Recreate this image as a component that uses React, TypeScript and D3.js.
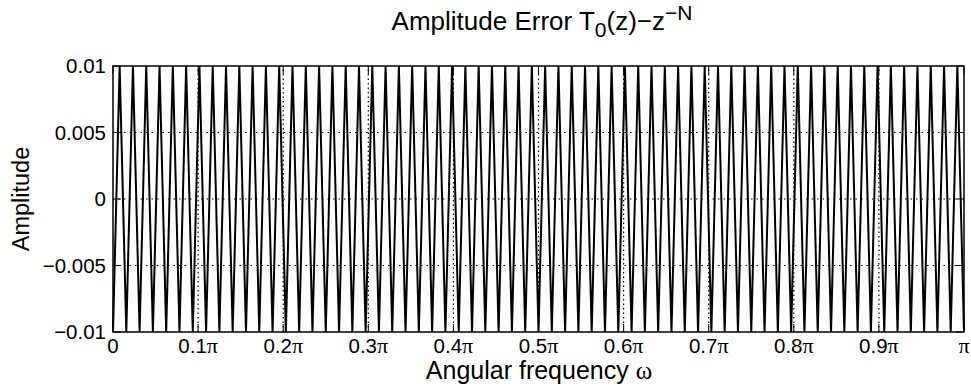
import React from "react";
import * as d3 from "d3";

// Ripple extrema of the amplitude error, sampled evenly from ω = 0 to ω = π
const errorValues: number[] = [
  -0.01, 0.01, -0.01, 0.01, -0.01, 0.01, -0.01, 0.01,
  -0.01, 0.01, -0.01, 0.01, -0.01, 0.01, -0.01, 0.01,
  -0.01, 0.01, -0.01, 0.01, -0.01, 0.01, -0.01, 0.01,
  -0.01, 0.01, -0.01, 0.01, -0.01, 0.01, -0.01, 0.01,
  -0.01, 0.01, -0.01, 0.01, -0.01, 0.01, -0.01, 0.01,
  -0.01, 0.01, -0.01, 0.01, -0.01, 0.01, -0.01, 0.01,
  -0.01, 0.01, -0.01, 0.01, -0.01, 0.01, -0.01, 0.01,
  -0.01, 0.01, -0.01, 0.01, -0.01, 0.01, -0.01, 0.01,
  -0.01, 0.01, -0.01, 0.01, -0.01, 0.01, -0.01, 0.01,
  -0.01, 0.01, -0.01, 0.01, -0.01, 0.01, -0.01, 0.01,
  -0.01, 0.01, -0.01, 0.01, -0.01, 0.01, -0.01, 0.01,
  -0.01, 0.01, -0.01, 0.01, -0.01, 0.01, -0.01, 0.01,
  -0.01, 0.01, -0.01, 0.01, -0.01, 0.01, -0.01, 0.01,
  -0.01, 0.01, -0.01, 0.01, -0.01, 0.01, -0.01, 0.01,
  -0.01, 0.01, -0.01, 0.01, -0.01, 0.01, -0.01, 0.01,
  -0.01, 0.01, -0.01, 0.01, -0.01, 0.01, -0.01, 0.01,
  -0.01,
];

const xTickValues: number[] = [0, 0.1, 0.2, 0.3, 0.4, 0.5, 0.6, 0.7, 0.8, 0.9, 1];
const xTickNumbers: string[] = ["0", "0.1", "0.2", "0.3", "0.4", "0.5", "0.6", "0.7", "0.8", "0.9", ""];
const yTickValues: number[] = [0.01, 0.005, 0, -0.005, -0.01];
const yTickLabels: string[] = ["0.01", "0.005", "0", "\u22120.005", "\u22120.01"];

const W = 971;
const H = 389;
const margin = { left: 113, right: 7, top: 66, bottom: 57 };
const SANS = "'Liberation Sans', Arial, Helvetica, sans-serif";
const SERIF = "'Liberation Serif', 'DejaVu Serif', serif";

export default function App() {
  const x = d3.scaleLinear().domain([0, 1]).range([margin.left, W - margin.right]);
  const y = d3.scaleLinear().domain([-0.01, 0.01]).range([H - margin.bottom, margin.top]);
  const n = errorValues.length;
  const line = d3
    .line<number>()
    .x((_, i) => x(i / (n - 1)))
    .y((d) => y(d));
  const x0 = x(0), x1 = x(1), y0 = y(-0.01), y1 = y(0.01);
  const tick = 8;

  return (
    <svg width={W} height={H} style={{ position: "absolute", left: 0, top: 0, background: "#fff" }}>
      <rect x={0} y={0} width={W} height={H} fill="#fff" />
      {/* grid */}
      {yTickValues.filter((v) => v !== 0.01 && v !== -0.01).map((v) => (
        <line key={"gy" + v} x1={x0} x2={x1} y1={y(v)} y2={y(v)} stroke="#000" strokeWidth={1} strokeDasharray="1.5,4" />
      ))}
      {xTickValues.filter((v) => v !== 0 && v !== 1).map((v) => (
        <line key={"gx" + v} x1={x(v)} x2={x(v)} y1={y0} y2={y1} stroke="#000" strokeWidth={1.2} strokeDasharray="1.5,3" />
      ))}
      {/* data */}
      <path d={line(errorValues) || ""} fill="none" stroke="#000" strokeWidth={2} strokeLinejoin="miter" />
      {/* box */}
      <rect x={x0} y={y1} width={x1 - x0} height={y0 - y1} fill="none" stroke="#000" strokeWidth={1.5} />
      {/* ticks */}
      {xTickValues.map((v) => (
        <g key={"tx" + v}>
          <line x1={x(v)} x2={x(v)} y1={y0} y2={y0 - tick} stroke="#000" strokeWidth={1} />
          <line x1={x(v)} x2={x(v)} y1={y1} y2={y1 + tick} stroke="#000" strokeWidth={1} />
        </g>
      ))}
      {yTickValues.map((v) => (
        <g key={"ty" + v}>
          <line x1={x0} x2={x0 + tick} y1={y(v)} y2={y(v)} stroke="#000" strokeWidth={1} />
          <line x1={x1} x2={x1 - tick} y1={y(v)} y2={y(v)} stroke="#000" strokeWidth={1} />
        </g>
      ))}
      {/* tick labels */}
      {xTickValues.map((v, i) => (
        <text key={"lx" + v} x={x(v)} y={353} textAnchor="middle" fontFamily={SANS} fontSize={20.5} fill="#000">
          {xTickNumbers[i]}
          {v !== 0 && <tspan fontFamily={SERIF} fontSize={22}>π</tspan>}
        </text>
      ))}
      {yTickValues.map((v, i) => (
        <text key={"ly" + v} x={106} y={y(v) + 7} textAnchor="end" fontFamily={SANS} fontSize={20.5} fill="#000">
          {yTickLabels[i]}
        </text>
      ))}
      {/* axis labels */}
      <text x={539} y={379} textAnchor="middle" fontFamily={SANS} fontSize={25} fill="#000">
        Angular frequency <tspan fontFamily={SERIF}>ω</tspan>
      </text>
      <text transform="translate(29,199) rotate(-90)" textAnchor="middle" fontFamily={SANS} fontSize={23.5} fill="#000">
        Amplitude
      </text>
      {/* title */}
      <text x={542} y={30} textAnchor="middle" fontFamily={SANS} fontSize={26} fill="#000">
        Amplitude Error T<tspan fontSize={21} dy={7}>0</tspan>
        <tspan dy={-7}>(z)−z</tspan>
        <tspan fontSize={21} dy={-10}>−N</tspan>
      </text>
    </svg>
  );
}
